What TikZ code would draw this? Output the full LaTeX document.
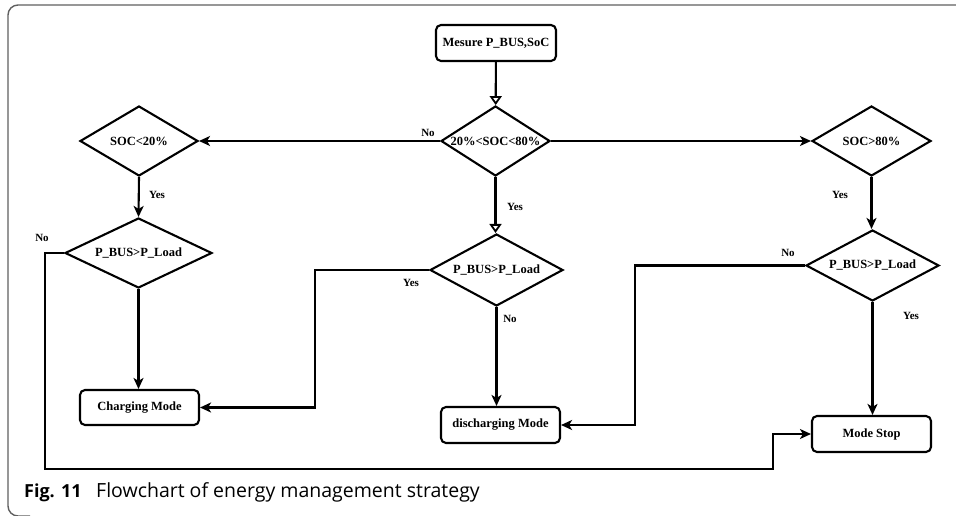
\documentclass[tikz,border=0pt]{standalone}
\usepackage{fontspec}
\setmainfont{Liberation Serif}
\newfontfamily\capfont{Open Sans}
\usetikzlibrary{shapes.geometric,arrows.meta}
\begin{document}
\begin{tikzpicture}[x=1pt,y=-1pt,
  box/.style={draw, rounded corners=5pt, line width=2.1pt, inner sep=0pt,
    font=\bfseries\fontsize{12.5}{14}\selectfont},
  dec/.style={draw, diamond, line width=2.1pt, inner sep=0pt},
  dtext/.style={font=\bfseries\fontsize{12.5}{14}\selectfont},
  lab/.style={font=\bfseries\fontsize{11}{13}\selectfont},
  arr/.style={line width=2.1pt, -{Stealth[length=11pt,width=10pt,inset=3pt]}},
  oarr/.style={line width=2.1pt, -{Triangle[open,length=9pt,width=12pt,line width=1.8pt]}}]
\useasboundingbox (0,0) rectangle (956,516);
% frame
\draw[line width=1.4pt, gray!75!black, rounded corners=10pt] (960,5) -- (8,5) -- (8,516) -- (30,516);
% nodes
\node[box, minimum width=120pt, minimum height=36pt] (mes) at (496,43) {Mesure P\_BUS,SoC};
\node[dec, minimum width=109pt, minimum height=70pt, label={[dtext]center:20\%<SOC<80\%}] (mid) at (495.5,141) {};
\node[dec, minimum width=118pt, minimum height=70pt, label={[dtext]center:SOC<20\%}] (low) at (139,141) {};
\node[dec, minimum width=119pt, minimum height=70pt, label={[dtext]center:SOC>80\%}] (high) at (871.5,141) {};
\node[dec, minimum width=147pt, minimum height=70pt, label={[dtext]center:P\_BUS>P\_Load}] (pl) at (138.5,253) {};
\node[dec, minimum width=133pt, minimum height=72pt, label={[dtext]center:P\_BUS>P\_Load}] (pm) at (496.5,270) {};
\node[dec, minimum width=133pt, minimum height=71pt, label={[dtext]center:P\_BUS>P\_Load}] (pr) at (872.5,265.5) {};
\node[box, minimum width=119pt, minimum height=35pt] (chg) at (139.5,407.5) {Charging Mode};
\node[box, minimum width=119pt, minimum height=36pt] (dis) at (500.5,425) {discharging Mode};
\node[box, minimum width=119pt, minimum height=36pt] (stop) at (871.5,434) {Mode Stop};
% helper coordinates
\coordinate (c1) at (45,469);
\coordinate (c2) at (773,469);
\coordinate (c3) at (315,407.5);
\coordinate (c4) at (635,425);
% connectors
\draw[oarr] (mes) -- (mid);
\draw[arr] (mid.west) -- (low.east);
\draw[arr] (mid.east) -- (high.west);
\draw[arr] (low.south) -- (pl.north);
\draw[arr] (pl.south) -- (pl.south |- chg.north);
\draw[arr] (pl.west) -| (c1) -- (c2) |- (stop.west);
\draw[oarr] (mid.south) -- (mid.south |- pm.north);
\draw[arr] (pm.west) -| (c3) -- (chg.east);
\draw[arr] (pm.south) -- (pm.south |- dis.north);
\draw[arr] (high.south) -- (high.south |- pr.north);
\draw[arr] (pr.west) -| (c4) -- (dis.east);
\draw[arr] (pr.south) -- (pr.south |- stop.north);
% labels
\node[lab] (l1) at (428,133) {No};
\node[lab] (l2) at (157,195) {Yes};
\node[lab] (l3) at (42,238) {No};
\node[lab] (l4) at (515,207) {Yes};
\node[lab] (l5) at (411,283) {Yes};
\node[lab] (l6) at (510,319) {No};
\node[lab] (l7) at (840,195) {Yes};
\node[lab] (l8) at (788,253) {No};
\node[lab] (l9) at (911,316) {Yes};
% caption
\node[anchor=base west, inner sep=0pt, font=\capfont\bfseries\fontsize{18}{21}\selectfont] (cap1) at (24,497) {Fig. 11};
\node[anchor=base west, inner sep=0pt, font=\capfont\fontsize{19.5}{22}\selectfont] (cap2) at (96,497) {Flowchart of energy management strategy};
\end{tikzpicture}
\end{document}
